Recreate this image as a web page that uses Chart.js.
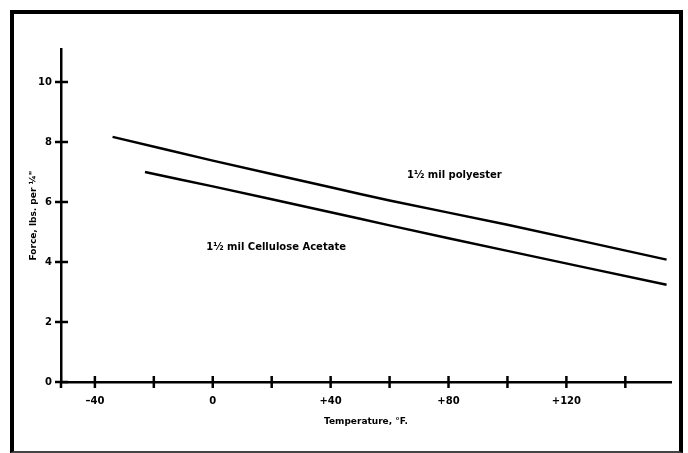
<!DOCTYPE html>
<html>
<head>
<meta charset="utf-8">
<script src="https://cdn.jsdelivr.net/npm/chart.js@4.4.0/dist/chart.umd.min.js"></script>
<style>
  body { margin: 0; background: #fff; }
  #wrap { position: relative; width: 688px; height: 453px; }
  #frame {
    position: absolute; left: 10px; top: 10px; width: 665px; height: 437px;
    border: 4px solid #000; border-bottom: 2px solid #444; pointer-events: none;
  }
</style>
</head>
<body>
<div id="wrap">
  <canvas id="myChart" width="688" height="453"></canvas>
  <div id="frame"></div>
</div>
<script>
// temperature (deg F) and force readings
var tempPolyester = [-34, 0, 40, 60, 100, 154];
var forcePolyester = [8.17, 7.38, 6.49, 6.05, 5.24, 4.08];
var tempAcetate = [-23, 0, 40, 60, 100, 154];
var forceAcetate = [7.0, 6.52, 5.66, 5.22, 4.37, 3.24];

var xTicks = [-40, -20, 0, 20, 40, 60, 80, 100, 120, 140];
var xTickLabels = { '-40': '\u201340', '0': '0', '40': '+40', '80': '+80', '120': '+120' };
var yTicks = [0, 2, 4, 6, 8, 10];

var seriesNames = ['1\u00bd mil polyester', '1\u00bd mil Cellulose Acetate'];
var namePos = [[82, 6.9], [21.5, 4.48]];

function toPoints(xs, ys) {
	return xs.map(function (x, i) { return { x: x, y: ys[i] }; });
}

var fontFamily = "'DejaVu Sans', sans-serif";

// tick marks that cross the axis lines, plus the curve names
var crossTicks = {
	id: 'crossTicks',
	afterDraw: function (chart) {
		var ctx = chart.ctx;
		var xs = chart.scales.x, ys = chart.scales.y;
		var ax = xs.top, ay = ys.right;
		ctx.save();
		ctx.strokeStyle = '#000';
		ctx.lineWidth = 2.5;
		xTicks.forEach(function (t) {
			var px = xs.getPixelForValue(t);
			ctx.beginPath();
			ctx.moveTo(px, ax - 6);
			ctx.lineTo(px, ax + 6);
			ctx.stroke();
		});
		yTicks.forEach(function (t) {
			var py = ys.getPixelForValue(t);
			ctx.beginPath();
			ctx.moveTo(ay - 6, py);
			ctx.lineTo(ay + 7, py);
			ctx.stroke();
		});
		// axis line runs a little below the x axis
		ctx.beginPath();
		ctx.moveTo(ay, ax);
		ctx.lineTo(ay, ax + 6);
		ctx.stroke();

		ctx.fillStyle = '#000';
		ctx.font = 'bold 10px ' + fontFamily;
		ctx.textAlign = 'center';
		ctx.textBaseline = 'middle';
		seriesNames.forEach(function (n, i) {
			ctx.fillText(n, xs.getPixelForValue(namePos[i][0]), ys.getPixelForValue(namePos[i][1]));
		});
		ctx.restore();
	}
};

var ctx = document.getElementById('myChart').getContext('2d');
var chart = new Chart(ctx, {
	type: 'line',
	data: {
		datasets: [{
			label: seriesNames[0],
			data: toPoints(tempPolyester, forcePolyester),
			borderColor: '#000',
			borderWidth: 2.5,
			pointRadius: 0,
			tension: 0.2
		}, {
			label: seriesNames[1],
			data: toPoints(tempAcetate, forceAcetate),
			borderColor: '#000',
			borderWidth: 2.5,
			pointRadius: 0,
			tension: 0.2
		}]
	},
	options: {
		responsive: false,
		animation: false,
		layout: { padding: { left: 0, right: 17, top: 49, bottom: 0 } },
		plugins: {
			legend: { display: false },
			tooltip: { enabled: false }
		},
		scales: {
			x: {
				type: 'linear',
				min: -51.5,
				max: 155.5,
				afterBuildTicks: function (s) { s.ticks = xTicks.map(function (v) { return { value: v }; }); },
				afterFit: function (s) { s.height = 71; },
				grid: { display: false, drawTicks: false },
				border: { display: true, color: '#000', width: 2.5 },
				ticks: {
					autoSkip: false,
					maxRotation: 0,
					padding: 13,
					color: '#000',
					font: { family: fontFamily, size: 10, weight: 'bold' },
					callback: function (v) { return xTickLabels[String(v)] || ''; }
				},
				title: {
					display: true,
					text: 'Temperature, \u00b0F.',
					color: '#000',
					font: { family: fontFamily, size: 9, weight: 'bold' },
					padding: { top: 0, bottom: 26 }
				}
			},
			y: {
				min: 0,
				max: 11.1,
				afterBuildTicks: function (s) { s.ticks = yTicks.map(function (v) { return { value: v }; }); },
				afterFit: function (s) { s.width = 61; },
				grid: { display: false, drawTicks: false },
				border: { display: true, color: '#000', width: 2.5 },
				ticks: {
					padding: 9,
					color: '#000',
					font: { family: fontFamily, size: 10, weight: 'bold' }
				},
				title: {
					display: true,
					text: 'Force, lbs. per \u00bc"',
					color: '#000',
					font: { family: fontFamily, size: 9, weight: 'bold' },
					padding: { top: 28, bottom: 0 }
				}
			}
		}
	},
	plugins: [crossTicks]
});
</script>
</body>
</html>
